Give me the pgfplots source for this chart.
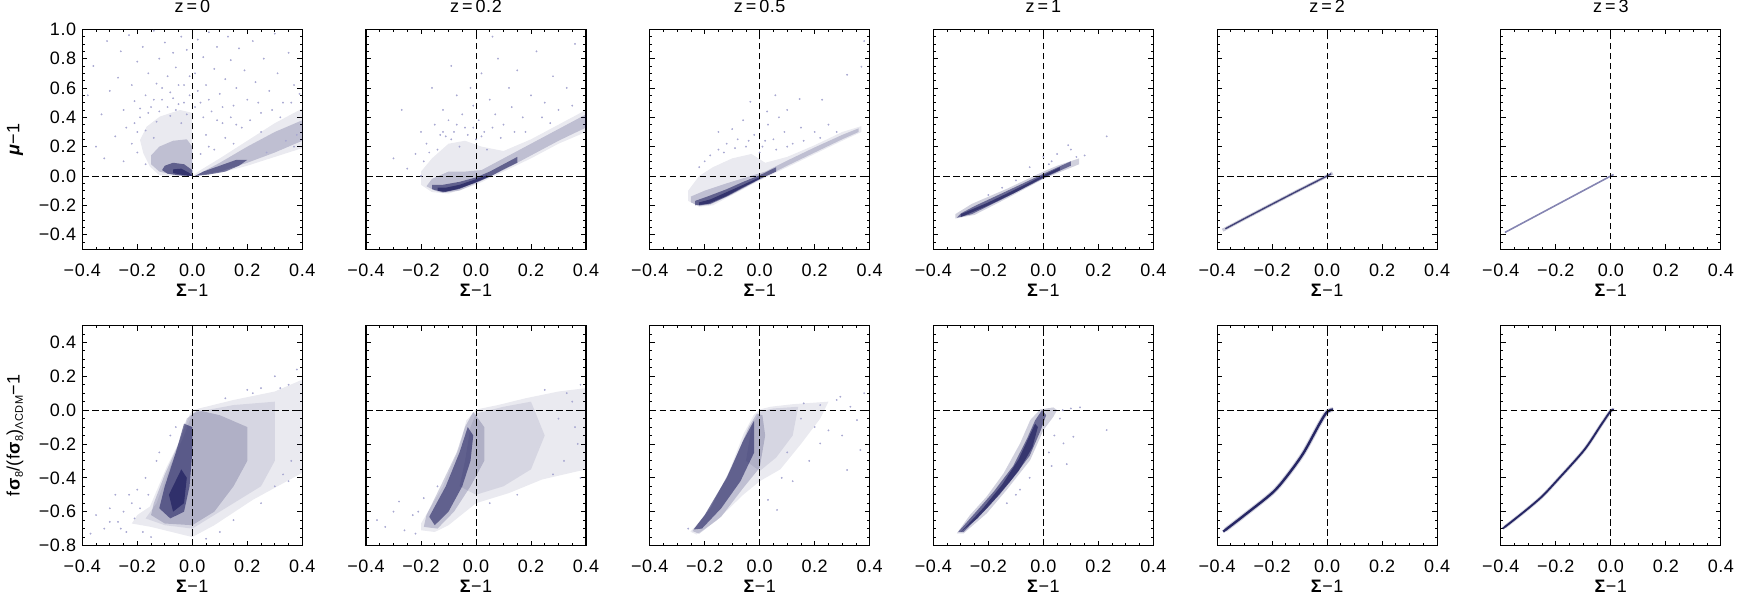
\documentclass[border=0pt]{standalone}
\usepackage{fontspec}
\setmainfont{Liberation Sans}[LetterSpace=3]
\usepackage{pgfplots}
\pgfplotsset{compat=1.18}
\definecolor{pt}{rgb}{0.08,0.08,0.34}
\definecolor{pl}{rgb}{0.52,0.52,0.70}
\definecolor{hl}{rgb}{0.66,0.66,0.82}
\newcommand\F{\fontsize{18}{21}\selectfont}
\newcommand\sub[1]{\raisebox{-0.35ex}{\fontsize{11}{13}\selectfont #1}}
\pgfplotsset{
 panel/.style={scale only axis, width=220pt, height=220pt, anchor=north west,
  xmin=-0.4, xmax=0.4, xtick={-0.4,-0.2,0,0.2,0.4}, xticklabels={−0.4,−0.2,0.0,0.2,0.4},
  minor xtick={-0.4,-0.35,...,0.4},
  tick align=inside, xtick pos=both, ytick pos=both,
  major tick length=5pt, minor tick length=2.6pt,
  axis line style={line width=1.1pt},
  every tick/.append style={black, line width=0.9pt},
  xticklabel style={font=\F, anchor=center, yshift=-20.7pt},
  yticklabel style={font=\F, anchor=east, inner sep=0pt, xshift=-6pt},
  xlabel={\textbf{Σ}−1},
  xlabel style={font=\F, at={(axis description cs:0.5,-0.185)}, anchor=center},
  ylabel style={font=\F, at={(axis description cs:-0.306,0.5)}, anchor=center},
  title style={font=\F, at={(axis description cs:0.5,1.0755)}, anchor=center}},
 toprow/.style={ymin=-0.5, ymax=1.0, ytick={-0.4,-0.2,0,0.2,0.4,0.6,0.8,1.0},
  yticklabels={−0.4,−0.2,0.0,0.2,0.4,0.6,0.8,1.0}, minor ytick={-0.5,-0.45,...,1.0}},
 botrow/.style={ymin=-0.8, ymax=0.5, ytick={-0.8,-0.6,-0.4,-0.2,0,0.2,0.4},
  yticklabels={−0.8,−0.6,−0.4,−0.2,0.0,0.2,0.4}, minor ytick={-0.8,-0.75,...,0.5}},
 nolab/.style={yticklabels={}},
 c1/.style={draw=none, fill=pt, fill opacity=0.09},
 c2/.style={draw=none, fill=pt, fill opacity=0.2},
 c3/.style={draw=none, fill=pt, fill opacity=0.55},
 c4/.style={draw=none, fill=pt, fill opacity=0.6},
 halo/.style={only marks, mark=*, mark size=0.7pt, color=hl, mark options={draw=none, fill=hl}},
 zl/.style={black, line width=0.9pt, dash pattern=on 6.5pt off 3.5pt},
}
\begin{document}
\begin{tikzpicture}
\useasboundingbox (0,0) rectangle (1748pt,-611pt);
% ================= TOP ROW =================
\begin{axis}[panel, toprow, at={(82.3pt,-29.3pt)}, title={z\,=\,0}, ylabel={\textbf{\textit{μ}}−1}]
\addplot[c1] coordinates {(0,0) (-0.05,0) (-0.12,0.005) (-0.154,0.064) (-0.178,0.155) (-0.19,0.245) (-0.166,0.336) (-0.118,0.405) (-0.045,0.45) (0,0.43)};
\addplot[c2] coordinates {(0,0) (-0.06,0.005) (-0.12,0.03) (-0.15,0.08) (-0.15,0.14) (-0.12,0.2) (-0.07,0.24) (-0.02,0.25) (0,0.2)};
\addplot[c3] coordinates {(0,0) (-0.04,0.003) (-0.09,0.015) (-0.11,0.04) (-0.1,0.07) (-0.07,0.09) (-0.03,0.08) (0,0.04)};
\addplot[c4] coordinates {(0,0) (-0.03,0.005) (-0.07,0.02) (-0.07,0.045) (-0.04,0.05) (-0.01,0.02)};
\addplot[c1] coordinates {(0,0) (0.1,0.02) (0.2,0.07) (0.3,0.13) (0.4,0.19) (0.4,0.46) (0.3,0.36) (0.2,0.24) (0.1,0.12) (0.03,0.04)};
\addplot[c2] coordinates {(0.01,0) (0.1,0.03) (0.2,0.09) (0.3,0.16) (0.4,0.24) (0.4,0.38) (0.3,0.3) (0.2,0.2) (0.1,0.09) (0.03,0.02)};
\addplot[c3] coordinates {(0.01,0) (0.06,0.01) (0.12,0.03) (0.17,0.07) (0.2,0.11) (0.16,0.11) (0.1,0.07) (0.04,0.03)};
\addplot[halo] coordinates {(-0.36,0.75) (-0.33,0.42) (-0.31,0.92) (-0.30,0.58) (-0.28,0.27) (-0.27,0.67) (-0.26,0.85) (-0.25,0.45) (-0.24,0.33) (-0.23,0.96) (-0.22,0.62) (-0.21,0.51) (-0.2,0.78) (-0.19,0.40) (-0.18,0.88) (-0.17,0.55) (-0.16,0.70) (-0.15,0.47) (-0.14,0.99) (-0.13,0.63) (-0.12,0.80) (-0.11,0.52) (-0.1,0.91) (-0.09,0.68) (-0.08,0.57) (-0.07,0.84) (-0.06,0.74) (-0.05,0.49) (-0.04,0.95) (-0.03,0.62) (-0.02,0.86) (-0.01,0.55) (0.01,0.70) (0.02,0.93) (0.03,0.50) (0.04,0.81) (0.05,0.62) (0.06,0.98) (0.07,0.44) (0.08,0.73) (0.09,0.88) (0.1,0.56) (0.11,0.36) (0.12,0.66) (0.13,0.95) (0.14,0.79) (0.15,0.48) (0.16,0.60) (0.17,0.87) (0.18,0.33) (0.19,0.72) (0.2,0.52) (0.22,0.92) (0.23,0.64) (0.25,0.43) (0.26,0.80) (0.28,0.58) (0.3,0.97) (0.31,0.70) (0.33,0.50) (0.35,0.84) (0.37,0.62) (0.38,0.28) (-0.35,0.2) (-0.38,0.55) (-0.32,0.12) (-0.2,0.3) (-0.13,0.37) (-0.04,0.36) (-0.25,0.1) (0.05,0.28) (0.12,0.26) (0.08,0.18) (0.25,0.3) (0.34,0.24)
 (-0.22,0.22) (-0.21,0.36) (-0.19,0.46) (-0.17,0.31) (-0.16,0.43) (-0.14,0.52) (-0.12,0.44) (-0.11,0.6) (-0.09,0.47) (-0.08,0.41) (-0.07,0.53) (-0.06,0.45) (-0.05,0.62) (-0.03,0.5) (-0.02,0.42) (-0.01,0.68) (0.01,0.47) (0.02,0.58) (0.04,0.4) (0.06,0.52) (0.09,0.38) (0.11,0.47) (0.14,0.4) (0.16,0.35) (0.21,0.38) (0.24,0.5) (0.29,0.45) (0.32,0.4) (0.36,0.5) (0.39,0.56) (-0.2,0.16) (-0.17,0.08) (-0.14,0.26) (0.03,0.15) (0.06,0.2) (0.15,0.22) (0.27,0.16) (0.37,0.2)};
\addplot[zl] coordinates {(0,-0.5) (0,1.0)};
\addplot[zl] coordinates {(-0.4,0) (0.4,0)};
\end{axis}
\begin{axis}[panel, toprow, nolab, at={(366.0pt,-29.3pt)}, title={z\,=\,0.2}]
\addplot[c1] coordinates {(-0.2,-0.06) (-0.16,-0.11) (-0.1,-0.12) (0,-0.06) (0.1,0.03) (0.2,0.12) (0.3,0.22) (0.4,0.3) (0.4,0.45) (0.3,0.35) (0.2,0.25) (0.1,0.17) (0.02,0.2) (-0.04,0.24) (-0.1,0.22) (-0.16,0.12) (-0.2,0.03)};
\addplot[c2] coordinates {(-0.18,-0.07) (-0.15,-0.1) (-0.12,-0.115) (-0.06,-0.1) (0,-0.05) (0.1,0.04) (0.2,0.14) (0.3,0.24) (0.4,0.33) (0.4,0.42) (0.3,0.32) (0.2,0.22) (0.1,0.12) (0.02,0.04) (-0.04,0.03) (-0.1,0.03) (-0.16,-0.02)};
\addplot[c3] coordinates {(-0.16,-0.09) (-0.12,-0.11) (-0.07,-0.09) (0,-0.045) (0.05,-0.005) (0.1,0.045) (0.15,0.09) (0.15,0.13) (0.1,0.08) (0.05,0.03) (0,-0.01) (-0.06,-0.04) (-0.12,-0.06) (-0.16,-0.06)};
\addplot[c4] coordinates {(-0.14,-0.1) (-0.11,-0.108) (-0.06,-0.088) (0,-0.042) (0.04,-0.01) (0.04,0.005) (0,-0.022) (-0.06,-0.06) (-0.11,-0.08) (-0.14,-0.08)};
\addplot[halo] coordinates {(-0.25,0.05) (-0.22,0.15) (-0.2,0.3) (-0.18,0.22) (-0.15,0.35) (-0.13,0.28) (-0.12,0.45) (-0.1,0.38) (-0.08,0.3) (-0.07,0.55) (-0.05,0.42) (-0.04,0.33) (-0.02,0.6) (-0.01,0.48) (0.01,0.38) (0.02,0.7) (0.03,0.3) (0.05,0.52) (0.07,0.42) (0.08,0.8) (0.1,0.35) (0.12,0.6) (0.13,0.47) (0.15,0.72) (0.17,0.4) (0.2,0.55) (0.22,0.85) (0.25,0.5) (0.28,0.68) (0.3,0.45) (0.33,0.6) (0.36,0.9) (-0.3,0.12) (-0.16,0.6) (-0.27,0.45) (-0.09,0.75) (0.06,0.95) (-0.2,0.0) (0.18,0.3) (0.0,0.25) (-0.06,0.2) (-0.14,0.18) (-0.11,0.27) (0.04,0.18) (-0.19,0.1) (-0.17,0.16) (-0.12,0.3) (-0.09,0.25) (-0.07,0.35) (-0.03,0.28) (-0.01,0.33) (0.02,0.27) (0.06,0.33) (0.09,0.26) (0.14,0.3) (0.24,0.4) (0.27,0.36) (0.35,0.48)};
\addplot[zl] coordinates {(0,-0.5) (0,1.0)};
\addplot[zl] coordinates {(-0.4,0) (0.4,0)};
\end{axis}
\begin{axis}[panel, toprow, nolab, at={(649.7pt,-29.3pt)}, title={z\,=\,0.5}]
\addplot[c1] coordinates {(-0.26,-0.17) (-0.22,-0.21) (-0.17,-0.2) (-0.1,-0.13) (0,-0.03) (0.1,0.06) (0.2,0.15) (0.3,0.24) (0.37,0.3) (0.37,0.34) (0.3,0.3) (0.2,0.21) (0.1,0.13) (0.02,0.09) (-0.03,0.15) (-0.1,0.12) (-0.17,0.06) (-0.22,0.0) (-0.26,-0.1)};
\addplot[c2] coordinates {(-0.25,-0.18) (-0.22,-0.205) (-0.18,-0.195) (-0.1,-0.125) (0,-0.025) (0.1,0.07) (0.2,0.16) (0.3,0.25) (0.36,0.3) (0.36,0.325) (0.3,0.28) (0.2,0.195) (0.1,0.105) (0.02,0.03) (-0.05,-0.01) (-0.12,-0.05) (-0.2,-0.1) (-0.25,-0.14)};
\addplot[c3] coordinates {(-0.235,-0.2) (-0.19,-0.19) (-0.12,-0.135) (-0.06,-0.075) (0,-0.02) (0.06,0.03) (0.06,0.06) (0,0.005) (-0.06,-0.04) (-0.12,-0.09) (-0.19,-0.14) (-0.235,-0.17)};
\addplot[c4] coordinates {(-0.22,-0.2) (-0.18,-0.19) (-0.12,-0.14) (-0.06,-0.08) (0,-0.022) (0,-0.008) (-0.06,-0.06) (-0.12,-0.11) (-0.18,-0.16) (-0.22,-0.18)};
\addplot[halo] coordinates {(-0.2,0.1) (-0.15,0.18) (-0.12,0.22) (-0.08,0.25) (-0.05,0.2) (-0.02,0.28) (0.01,0.2) (0.03,0.35) (0.05,0.25) (0.07,0.4) (0.09,0.3) (0.12,0.22) (0.15,0.33) (0.057,0.55) (0.145,0.525) (0.227,0.52) (-0.034,0.506) (0.318,0.69) (0.37,0.745) (0.38,0.92) (0.027,0.44) (-0.15,0.3) (-0.22,0.06) (-0.1,0.32) (0.2,0.3) (0.25,0.35) (0.1,0.45) (-0.06,0.38) (-0.18,0.14) (-0.13,0.16) (-0.09,0.19) (-0.04,0.24) (0.0,0.16) (0.02,0.24) (0.06,0.18) (0.1,0.2) (0.16,0.24) (0.22,0.26) (0.28,0.3)};
\addplot[zl] coordinates {(0,-0.5) (0,1.0)};
\addplot[zl] coordinates {(-0.4,0) (0.4,0)};
\end{axis}
\begin{axis}[panel, toprow, nolab, at={(933.4pt,-29.3pt)}, title={z\,=\,1}]
\addplot[c2] coordinates {(-0.32,-0.29) (-0.25,-0.265) (-0.13,-0.15) (0,-0.02) (0.13,0.08) (0.13,0.12) (0.05,0.07) (0,0.03) (-0.13,-0.085) (-0.26,-0.19) (-0.32,-0.26)};
\addplot[c3] coordinates {(-0.315,-0.285) (-0.26,-0.26) (-0.13,-0.14) (0,-0.015) (0.1,0.07) (0.1,0.1) (0,0.015) (-0.13,-0.1) (-0.25,-0.205) (-0.3,-0.255)};
\addplot[c4] coordinates {(-0.3,-0.28) (-0.2,-0.2) (-0.1,-0.11) (0,-0.01) (0.06,0.04) (0.06,0.06) (0,0.005) (-0.1,-0.09) (-0.2,-0.18) (-0.3,-0.26)};
\addplot[halo] coordinates {(0,0.13) (0.09,0.21) (0.1,0.18) (0.23,0.27) (0.12,0.13) (-0.05,0.06) (0.03,0.1) (0.05,0.15) (-0.1,-0.03) (0.15,0.14) (0.02,0.08) (-0.2,-0.13) (-0.15,-0.08)};
\addplot[zl] coordinates {(0,-0.5) (0,1.0)};
\addplot[zl] coordinates {(-0.4,0) (0.4,0)};
\end{axis}
\begin{axis}[panel, toprow, nolab, at={(1217.1pt,-29.3pt)}, title={z\,=\,2}]
\addplot[pt, line width=3.2pt, opacity=0.22] coordinates {(-0.38,-0.37) (-0.3,-0.29) (-0.2,-0.192) (-0.1,-0.095) (0,0.0) (0.02,0.02)};
\addplot[pt, line width=1.4pt, opacity=0.75] coordinates {(-0.37,-0.36) (-0.3,-0.29) (-0.2,-0.192) (-0.1,-0.095) (0,0.0) (0.015,0.015)};
\addplot[zl] coordinates {(0,-0.5) (0,1.0)};
\addplot[zl] coordinates {(-0.4,0) (0.4,0)};
\end{axis}
\begin{axis}[panel, toprow, nolab, at={(1500.8pt,-29.3pt)}, title={z\,=\,3}]
\addplot[pl, line width=1.6pt] coordinates {(-0.385,-0.385) (-0.2,-0.2) (0,0.0) (0.01,0.01)};
\addplot[zl] coordinates {(0,-0.5) (0,1.0)};
\addplot[zl] coordinates {(-0.4,0) (0.4,0)};
\end{axis}
% ================= BOTTOM ROW =================
\begin{axis}[panel, botrow, at={(82.3pt,-325.5pt)}, ylabel={f\textbf{σ}\sub{8}/(f\textbf{σ}\sub{8})\sub{ΛCDM}−1}]
\addplot[c1] coordinates {(0,0.0) (-0.008,-0.02) (-0.045,-0.18) (-0.093,-0.335) (-0.154,-0.57) (-0.2,-0.62) (-0.22,-0.67) (-0.15,-0.69) (-0.05,-0.73) (0,-0.75) (0.08,-0.68) (0.22,-0.53) (0.4,-0.37) (0.4,0.18) (0.3,0.11) (0.15,0.06) (0.05,0.02)};
\addplot[c1] coordinates {(0,-0.02) (-0.03,-0.15) (-0.08,-0.33) (-0.13,-0.55) (-0.17,-0.64) (-0.1,-0.68) (0,-0.7) (0.1,-0.6) (0.25,-0.45) (0.3,-0.3) (0.3,0.05) (0.15,0.03) (0.05,0.0)};
\addplot[c2] coordinates {(-0.02,-0.05) (-0.05,-0.2) (-0.1,-0.38) (-0.14,-0.55) (-0.15,-0.62) (-0.1,-0.67) (0,-0.68) (0.08,-0.6) (0.15,-0.45) (0.2,-0.3) (0.2,-0.1) (0.1,-0.03) (0.02,0.0)};
\addplot[c3] coordinates {(-0.03,-0.08) (-0.06,-0.25) (-0.1,-0.45) (-0.12,-0.58) (-0.08,-0.64) (-0.03,-0.6) (-0.01,-0.45) (0.0,-0.25) (0,-0.1)};
\addplot[c4] coordinates {(-0.04,-0.35) (-0.085,-0.5) (-0.07,-0.6) (-0.03,-0.55) (-0.02,-0.4)};
\addplot[halo] coordinates {(-0.35,-0.62) (-0.3,-0.58) (-0.27,-0.66) (-0.25,-0.6) (-0.32,-0.7) (-0.22,-0.55) (-0.2,-0.47) (-0.28,-0.5) (-0.37,-0.73) (-0.18,-0.72) (-0.15,-0.75) (-0.24,-0.72) (0.3,0.2) (0.35,0.15) (0.38,0.24) (0.25,0.13) (0.2,0.12) (0.3,-0.45) (0.35,-0.42) (0.25,-0.55) (0.1,-0.72) (0.05,-0.76) (0.15,-0.65) (-0.17,-0.4) (-0.13,-0.3) (-0.08,-0.15) (-0.19,-0.58) (-0.16,-0.5) (-0.12,-0.25) (-0.06,-0.1) (0.12,0.07) (0.22,0.1) (0.32,0.13) (0.36,-0.3) (0.33,-0.38) (-0.26,-0.7) (-0.21,-0.64) (-0.23,-0.5) (-0.3,-0.66)};
\addplot[zl] coordinates {(0,-0.8) (0,0.5)};
\addplot[zl] coordinates {(-0.4,0) (0.4,0)};
\end{axis}
\begin{axis}[panel, botrow, nolab, at={(366.0pt,-325.5pt)}]
\addplot[c1] coordinates {(0,0.0) (-0.035,-0.06) (-0.06,-0.22) (-0.12,-0.45) (-0.2,-0.67) (-0.2,-0.71) (-0.15,-0.72) (-0.1,-0.68) (0,-0.55) (0.12,-0.49) (0.24,-0.41) (0.4,-0.35) (0.4,0.13) (0.3,0.11) (0.18,0.07) (0.08,0.03) (0.02,0.01)};
\addplot[c1] coordinates {(0,-0.02) (-0.02,-0.1) (-0.04,-0.3) (-0.06,-0.45) (0,-0.5) (0.1,-0.45) (0.2,-0.35) (0.25,-0.15) (0.2,0.05) (0.1,0.02)};
\addplot[c2] coordinates {(-0.01,-0.01) (-0.04,-0.1) (-0.07,-0.25) (-0.12,-0.42) (-0.18,-0.62) (-0.19,-0.69) (-0.14,-0.7) (-0.08,-0.6) (-0.02,-0.45) (0.03,-0.3) (0.03,-0.1)};
\addplot[c3] coordinates {(-0.03,-0.1) (-0.06,-0.25) (-0.11,-0.45) (-0.17,-0.63) (-0.15,-0.68) (-0.1,-0.6) (-0.05,-0.45) (-0.02,-0.3) (-0.01,-0.15)};
\addplot[halo] coordinates {(-0.36,-0.65) (-0.28,-0.54) (-0.26,-0.71) (-0.3,-0.6) (-0.23,-0.62) (-0.33,-0.69) (0.38,0.15) (0.35,0.05) (0.3,-0.05) (0.37,-0.2) (0.32,-0.3) (0.28,-0.38) (0.38,-0.4) (0.25,0.12) (0.33,0.1) (0.36,-0.1) (-0.21,-0.6) (-0.19,-0.52) (-0.14,-0.45) (-0.22,-0.73) (0.05,-0.55) (0.15,-0.5)};
\addplot[zl] coordinates {(0,-0.8) (0,0.5)};
\addplot[zl] coordinates {(-0.4,0) (0.4,0)};
\end{axis}
\begin{axis}[panel, botrow, nolab, at={(649.7pt,-325.5pt)}]
\addplot[c1] coordinates {(0,0.004) (-0.022,-0.03) (-0.058,-0.138) (-0.119,-0.394) (-0.204,-0.63) (-0.252,-0.718) (-0.23,-0.735) (-0.155,-0.65) (-0.06,-0.5) (0,-0.42) (0.075,-0.35) (0.15,-0.2) (0.22,-0.05) (0.25,0.05) (0.12,0.035) (0.04,0.02)};
\addplot[c1] coordinates {(0,-0.01) (-0.03,-0.1) (-0.05,-0.3) (0,-0.36) (0.06,-0.28) (0.12,-0.15) (0.14,0.02) (0.05,0.01)};
\addplot[c2] coordinates {(-0.01,-0.02) (-0.04,-0.1) (-0.1,-0.33) (-0.18,-0.58) (-0.245,-0.715) (-0.22,-0.73) (-0.14,-0.63) (-0.06,-0.46) (0,-0.34) (0.02,-0.15) (0.01,-0.03)};
\addplot[c3] coordinates {(-0.02,-0.06) (-0.06,-0.18) (-0.12,-0.4) (-0.2,-0.62) (-0.24,-0.705) (-0.21,-0.7) (-0.14,-0.58) (-0.07,-0.42) (-0.02,-0.25)};
\addplot[halo] coordinates {(0.366,-0.236) (0.318,-0.354) (0.293,0.079) (0.354,-0.059) (0.22,-0.197) (0.063,-0.59) (0.03,-0.53) (0.28,0.06) (0.33,0.02) (0.18,-0.3) (0.12,-0.42) (0.25,-0.12) (0.38,0.1) (0.15,-0.05) (0.3,-0.15) (0.1,-0.25) (0.08,-0.4) (0.2,-0.1) (0.16,0.04) (0.22,0.03) (-0.26,-0.7)};
\addplot[zl] coordinates {(0,-0.8) (0,0.5)};
\addplot[zl] coordinates {(-0.4,0) (0.4,0)};
\end{axis}
\begin{axis}[panel, botrow, nolab, at={(933.4pt,-325.5pt)}]
\addplot[c2] coordinates {(-0.315,-0.728) (-0.267,-0.62) (-0.206,-0.51) (-0.145,-0.374) (-0.085,-0.197) (-0.048,-0.059) (-0.012,0.004) (0.036,0.016) (0.05,0.0) (0.048,-0.004) (0.036,-0.04) (0,-0.118) (-0.048,-0.295) (-0.133,-0.47) (-0.206,-0.61) (-0.29,-0.728)};
\addplot[c3] coordinates {(-0.31,-0.72) (-0.25,-0.61) (-0.18,-0.48) (-0.11,-0.33) (-0.06,-0.17) (-0.03,-0.06) (-0.005,0.0) (0.01,-0.03) (-0.01,-0.12) (-0.05,-0.27) (-0.12,-0.42) (-0.2,-0.57) (-0.29,-0.72)};
\addplot[c4] coordinates {(-0.3,-0.72) (-0.22,-0.58) (-0.15,-0.44) (-0.09,-0.29) (-0.05,-0.15) (-0.03,-0.08) (-0.02,-0.1) (-0.04,-0.22) (-0.09,-0.36) (-0.16,-0.5) (-0.24,-0.64)};
\addplot[halo] coordinates {(0.133,0.016) (0.1,0.01) (0.23,-0.118) (0.109,-0.157) (0.085,-0.319) (0.03,-0.33) (-0.133,-0.55) (-0.085,-0.47) (0.073,-0.197) (0.06,-0.05) (0.04,-0.15) (0.02,-0.25) (-0.05,-0.4) (-0.1,-0.5) (0.07,0.0)};
\addplot[zl] coordinates {(0,-0.8) (0,0.5)};
\addplot[zl] coordinates {(-0.4,0) (0.4,0)};
\end{axis}
\begin{axis}[panel, botrow, nolab, at={(1217.1pt,-325.5pt)}]
\addplot[pt, line width=4.5pt, opacity=0.2, smooth] coordinates {(-0.37,-0.708) (-0.3,-0.62) (-0.2,-0.49) (-0.148,-0.394) (-0.087,-0.256) (-0.027,-0.079) (0,-0.01) (0.022,0.004)};
\addplot[pt, line width=2.4pt, opacity=0.9, smooth] coordinates {(-0.378,-0.718) (-0.3,-0.62) (-0.2,-0.49) (-0.148,-0.394) (-0.087,-0.256) (-0.027,-0.079) (0,-0.01) (0.022,0.004)};
\addplot[zl] coordinates {(0,-0.8) (0,0.5)};
\addplot[zl] coordinates {(-0.4,0) (0.4,0)};
\end{axis}
\begin{axis}[panel, botrow, nolab, at={(1500.8pt,-325.5pt)}]
\addplot[pt, line width=3.5pt, opacity=0.2, smooth] coordinates {(-0.385,-0.69) (-0.315,-0.60) (-0.25,-0.51) (-0.194,-0.413) (-0.097,-0.236) (-0.036,-0.089) (0,-0.004) (0.01,0.0)};
\addplot[pt, line width=1.9pt, opacity=0.9, smooth] coordinates {(-0.393,-0.70) (-0.315,-0.60) (-0.25,-0.51) (-0.194,-0.413) (-0.097,-0.236) (-0.036,-0.089) (0,-0.004) (0.01,0.0)};
\addplot[zl] coordinates {(0,-0.8) (0,0.5)};
\addplot[zl] coordinates {(-0.4,0) (0.4,0)};
\end{axis}
\end{tikzpicture}
\end{document}
